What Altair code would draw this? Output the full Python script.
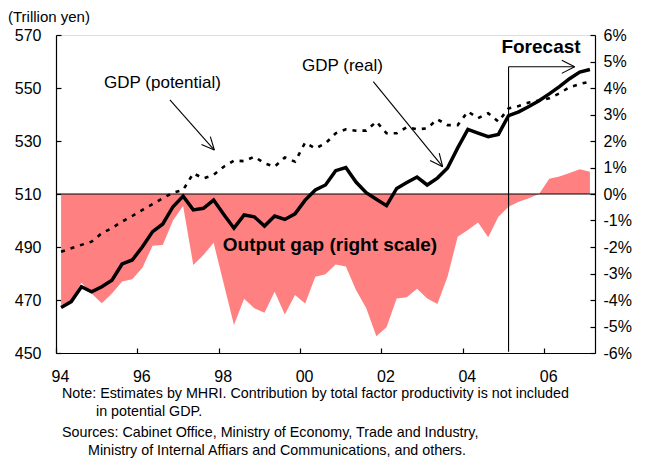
import math
import altair as alt
import pandas as pd

# ---------------- data (quarterly, 1994Q1 .. 2007Q1) ----------------
quarter_index = list(range(53))
year_tick_labels = ["94", "96", "98", "00", "02", "04", "06"]

gdp_real = [467.2, 469.4, 475.0, 473.1, 475.0, 477.5, 483.6, 485.1, 490.1, 495.8,
            498.7, 505.2, 509.2, 504.0, 504.6, 507.7, 502.3, 497.1, 502.1, 501.4,
            497.9, 501.7, 500.4, 502.5, 507.7, 511.5, 513.4, 518.8, 520.0, 514.5,
            510.5, 508.0, 505.6, 512.1, 514.3, 516.4, 513.4, 516.0, 519.8, 527.4,
            534.4, 533.0, 531.6, 532.5, 539.6, 541.0, 543.0, 545.2, 547.8, 550.5,
            553.5, 556.0, 557.0]

gdp_potential = [488.2, 489.5, 490.8, 492.0, 495.2, 497.1, 499.6, 501.7, 504.0, 506.2,
                 508.4, 510.5, 511.5, 517.8, 515.9, 517.2, 520.3, 522.6, 522.4, 524.1,
                 521.6, 520.3, 523.8, 522.2, 529.4, 527.2, 529.1, 532.9, 534.4, 533.9,
                 533.9, 537.3, 532.9, 532.9, 535.2, 534.4, 534.8, 538.2, 536.0, 536.0,
                 541.1, 538.6, 540.5, 537.3, 542.3, 543.2, 544.5, 545.3, 546.1, 548.0,
                 550.3, 551.5, 552.4]

output_gap = [-4.2, -4.0, -3.35, -3.75, -4.12, -3.75, -3.3, -3.22, -2.78, -1.95,
              -1.92, -1.0, -0.45, -2.68, -2.3, -1.84, -3.4, -4.94, -3.95, -4.31,
              -4.48, -3.69, -4.55, -3.81, -4.13, -3.12, -3.03, -2.66, -2.74, -3.62,
              -4.3, -5.37, -5.03, -3.94, -3.9, -3.58, -3.94, -4.15, -3.12, -1.61,
              -1.36, -1.08, -1.63, -0.86, -0.48, -0.29, -0.16, 0.0, 0.58, 0.66,
              0.79, 0.93, 0.84]

forecast_start = 44  # 2005Q1

df = pd.DataFrame({"q": quarter_index, "real": gdp_real,
                   "potential": gdp_potential, "gap": output_gap})

# ---------------- layout ----------------
W, H = 539, 318
X_DOMAIN = [-0.5, 52.5]
Y_LEFT = [450, 570]
Y_RIGHT = [-6, 6]
FONT = "Liberation Sans"
NOTE_SIZE = 14.3

PX_X = W / (X_DOMAIN[1] - X_DOMAIN[0])
PX_Y = H / (Y_LEFT[1] - Y_LEFT[0])

x_scale = alt.Scale(domain=X_DOMAIN, nice=False, zero=False)
yl_scale = alt.Scale(domain=Y_LEFT, nice=False, zero=False)
yr_scale = alt.Scale(domain=Y_RIGHT, nice=False, zero=False)

label_list = "[" + ",".join("'%s'" % s for s in year_tick_labels) + "]"
common_axis = dict(title=None, grid=False, domainColor="black", tickColor="black",
                   labelColor="black", labelFont=FONT, labelFontSize=16,
                   domainWidth=1.2, tickWidth=1.2, labelFlush=False,
                   labelOverlap=False, tickSize=alt.ExprRef(expr="-5"))

x_axis = alt.Axis(values=[-0.5 + 8 * k for k in range(len(year_tick_labels))],
                  labelExpr=label_list + "[round((datum.value + 0.5) / 8)]",
                  labelOffset=4, labelPadding=20, **common_axis)
left_axis = alt.Axis(orient="left", values=list(range(450, 571, 20)),
                     labelPadding=20, **common_axis)
right_axis = alt.Axis(orient="right", values=list(range(-6, 7)),
                      labelExpr="datum.value + '%'", labelPadding=13, **common_axis)

X = alt.X("q:Q", scale=x_scale, axis=x_axis)

base = alt.Chart(df)

# right-scale group: output gap area + zero line + label
gap_area = base.mark_area(color="#FF8080", opacity=1).encode(
    x=X, y=alt.Y("gap:Q", scale=yr_scale, axis=right_axis))
zero_line = alt.Chart(pd.DataFrame({"zero": [0]})).mark_rule(color="black", strokeWidth=1.2).encode(
    y=alt.Y("zero:Q", scale=yr_scale, axis=right_axis))
gap_label = alt.Chart(pd.DataFrame({"q": [26.44], "v": [-1.92], "t": ["Output gap (right scale)"]})).mark_text(
    font=FONT, fontSize=19, fontWeight="bold", color="black", align="center", baseline="middle").encode(
    x=X, y=alt.Y("v:Q", scale=yr_scale, axis=right_axis), text="t:N")
right_group = alt.layer(gap_area, zero_line, gap_label)

# left-scale group: GDP lines + annotations
real_line = base.mark_line(color="black", strokeWidth=3.5, strokeJoin="miter").encode(
    x=X, y=alt.Y("real:Q", scale=yl_scale, axis=left_axis))
pot_line = base.mark_line(color="black", strokeWidth=2.6, strokeDash=[4, 6]).encode(
    x=X, y=alt.Y("potential:Q", scale=yl_scale, axis=left_axis))


def arrow(tail, tip, length=14.0, half_angle=25.0):
    """Return shaft + two head segments in data units."""
    dx = (tip[0] - tail[0]) * PX_X
    dy = -(tip[1] - tail[1]) * PX_Y
    n = math.hypot(dx, dy)
    bx, by = -dx / n, -dy / n
    segs = [(tail[0], tail[1], tip[0], tip[1])]
    for s in (1, -1):
        a = math.radians(half_angle) * s
        rx = bx * math.cos(a) - by * math.sin(a)
        ry = bx * math.sin(a) + by * math.cos(a)
        hx = tip[0] + rx * length / PX_X
        hy = tip[1] - ry * length / PX_Y
        segs.append((tip[0], tip[1], hx, hy))
    return segs


bracket_top = 558.0
segments = []
segments += arrow((10.7, 545.5), (15.07, 526.6))
segments += arrow((30.7, 552.4), (37.52, 520.3))
segments.append((forecast_start, 450.5, forecast_start, bracket_top))
segments += arrow((forecast_start, bracket_top), (50.5, bracket_top), length=14.5, half_angle=27)
seg_df = pd.DataFrame(segments, columns=["x1", "y1", "x2", "y2"])

ann_rules = alt.Chart(seg_df).mark_rule(color="black", strokeWidth=1.1).encode(
    x=alt.X("x1:Q", scale=x_scale, axis=x_axis),
    y=alt.Y("y1:Q", scale=yl_scale, axis=left_axis),
    x2="x2:Q", y2="y2:Q")

lbl_df = pd.DataFrame({"q": [9.97, 27.67], "v": [551.9, 558.3],
                       "t": ["GDP (potential)", "GDP (real)"]})
ann_text = alt.Chart(lbl_df).mark_text(font=FONT, fontSize=17, color="black",
                                       align="center", baseline="middle").encode(
    x=alt.X("q:Q", scale=x_scale, axis=x_axis),
    y=alt.Y("v:Q", scale=yl_scale, axis=left_axis), text="t:N")

fc_df = pd.DataFrame({"q": [47.19], "v": [565.5], "t": ["Forecast"]})
fc_text = alt.Chart(fc_df).mark_text(font=FONT, fontSize=19, fontWeight="bold", color="black",
                                     align="center", baseline="middle").encode(
    x=alt.X("q:Q", scale=x_scale, axis=x_axis),
    y=alt.Y("v:Q", scale=yl_scale, axis=left_axis), text="t:N")

left_group = alt.layer(real_line, pot_line, ann_rules, ann_text, fc_text)

# free text (unit title and notes)
dummy = alt.Data(values=[{}])


def free_text(txt, x, y, size, font=FONT):
    return alt.Chart(dummy).mark_text(text=txt, font=font, fontSize=size, color="black",
                                      align="left", baseline="middle").encode(
        x=alt.value(x), y=alt.value(y))


texts = alt.layer(
    free_text("(Trillion yen)", -48, -18, 15),
    free_text("Note: Estimates by MHRI. Contribution by total factor productivity is not included", 6, 359, NOTE_SIZE),
    free_text("in potential GDP.", 40, 377, NOTE_SIZE),
    free_text("Sources: Cabinet Office, Ministry of Economy, Trade and Industry,", 6, 398, NOTE_SIZE),
    free_text("Ministry of Internal Affiars and Communications, and others.", 32, 416, NOTE_SIZE),
)

chart = alt.layer(right_group, left_group, texts).resolve_scale(y="independent").properties(
    width=W, height=H,
    autosize=alt.AutoSizeParams(type="none"),
    padding={"left": 48, "top": 27, "right": 46, "bottom": 105},
).configure_view(stroke=None).configure(background="white")

chart.save("out.html", embed_options={"renderer": "svg", "actions": False})
